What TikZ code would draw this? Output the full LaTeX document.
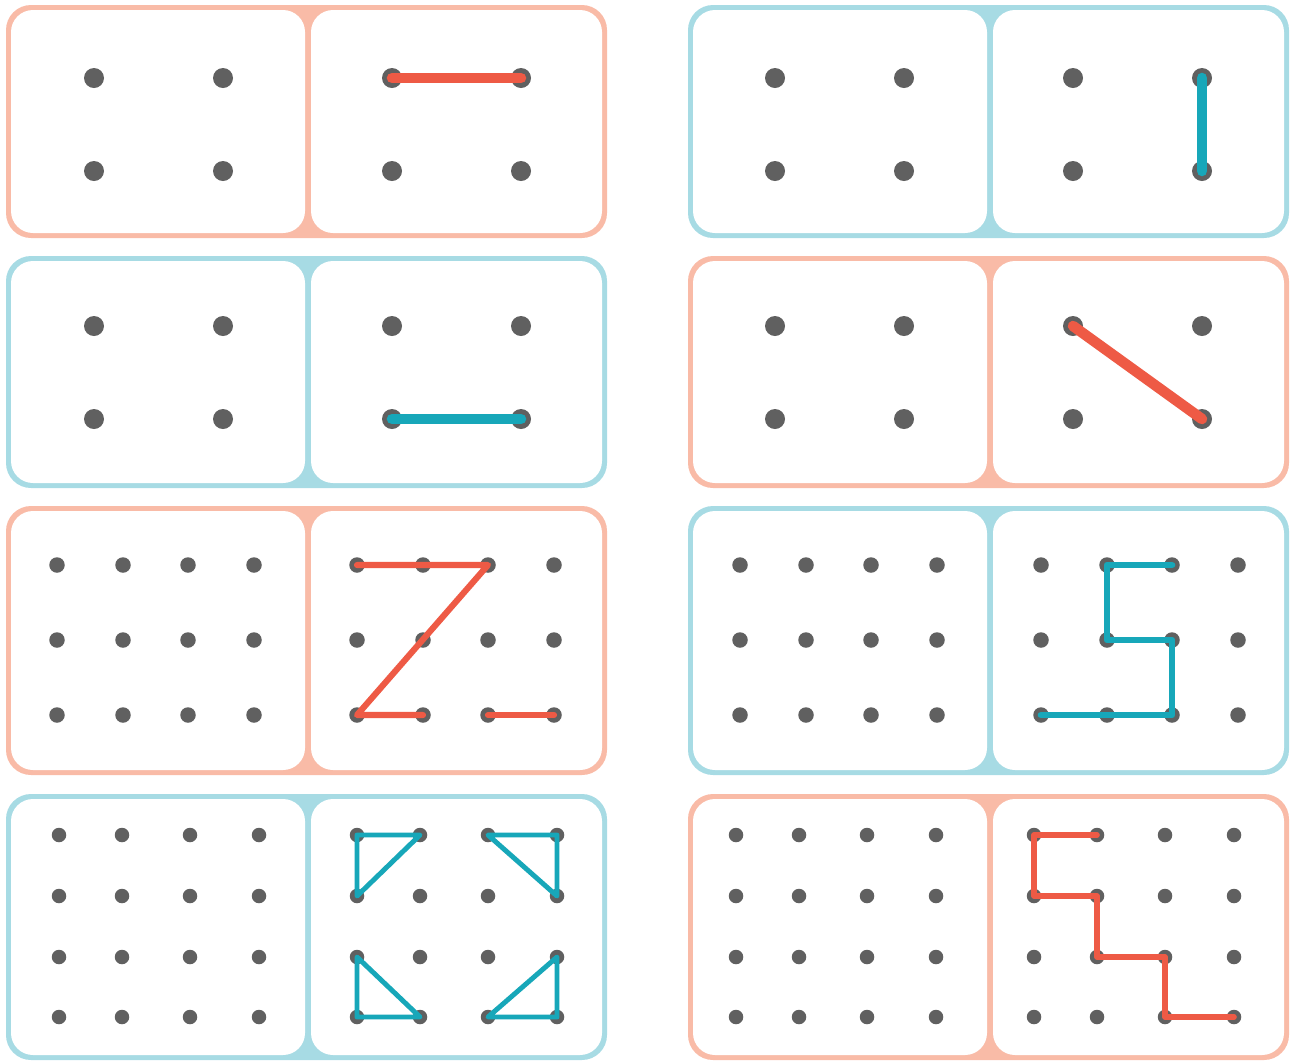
\documentclass[tikz,border=0pt]{standalone}
\usepackage{tikz}
\definecolor{peach}{HTML}{F9BBA7}
\definecolor{aqua}{HTML}{A7DBE4}
\definecolor{redcol}{HTML}{EE5A45}
\definecolor{bluecol}{HTML}{17A7B9}
\definecolor{pegcol}{HTML}{606060}

\begin{document}
\begin{tikzpicture}[x=0.2mm, y=-0.2mm,
    peg/.style={circle, fill=pegcol, inner sep=0pt, minimum size=4mm},
    rl/.style={draw=redcol, line width=#1, line cap=round, line join=round},
    rl/.default=6pt,
    bl/.style={draw=bluecol, line width=#1, line cap=round, line join=round},
    bl/.default=6pt]
  \useasboundingbox (0,0) rectangle (1298,1063);
  % boards
  \foreach \bx/\by/\bh/\col in {6/5/233/peach, 688/5/233/aqua,
      6/256/232/aqua, 688/256/232/peach, 6/506/269/peach, 688/506/269/aqua,
      6/794/266/aqua, 688/794/266/peach} {
    \fill[\col, rounded corners=5mm] (\bx,\by) rectangle ++(601,\bh);
    \fill[white, rounded corners=4.4mm] ({\bx+5},{\by+5}) rectangle ({\bx+299},{\by+\bh-5});
    \fill[white, rounded corners=4.4mm] ({\bx+305},{\by+5}) rectangle ({\bx+596},{\by+\bh-5});
  }
  % 2x2 pegs
  \foreach \r/\ya/\yb in {1/78/171, 2/326/419}
    \foreach \c/\xa in {a/94, b/392, c/775, d/1073}
      \foreach \i/\dx in {1/0, 2/129}
        \foreach \j/\y in {1/\ya, 2/\yb}
          \node[peg] (\r\c-\i-\j) at ({\xa+\dx},\y) {};
  % 4x3 pegs
  \foreach \c/\xa in {a/57, b/357, c/740, d/1041}
    \foreach \i/\dx in {1/0, 2/66, 3/131, 4/197}
      \foreach \j/\y in {1/565, 2/640, 3/715}
        \node[peg, minimum size=3.1mm] (3\c-\i-\j) at ({\xa+\dx},\y) {};
  % 4x4 pegs
  \foreach \c/\xa in {a/59, b/357, c/736, d/1034}
    \foreach \i/\dx in {1/0, 2/63, 3/131, 4/200}
      \foreach \j/\y in {1/835, 2/896, 3/957, 4/1017}
        \node[peg, minimum size=2.9mm] (4\c-\i-\j) at ({\xa+\dx},\y) {};
  % row 1
  \draw[rl] (1b-1-1.center) -- (1b-2-1.center);
  \draw[bl] (1d-2-1.center) -- (1d-2-2.center);
  % row 2
  \draw[bl] (2b-1-2.center) -- (2b-2-2.center);
  \draw[rl] (2d-1-1.center) -- (2d-2-2.center);
  % row 3: Z and S
  \draw[rl=3.5pt] (3b-1-1.center) -- (3b-2-1.center) -- (3b-3-1.center)
    -- (3b-1-3.center) -- (3b-2-3.center);
  \draw[rl=3.5pt] (3b-3-3.center) -- (3b-4-3.center);
  \draw[bl=3.8pt] (3d-3-1.center) -- (3d-2-1.center) -- (3d-2-2.center)
    -- (3d-3-2.center) -- (3d-3-3.center) -- (3d-2-3.center) -- (3d-1-3.center);
  % row 4: triangles and steps
  \draw[bl=2.8pt] (4b-1-1.center) -- (4b-2-1.center) -- (4b-1-2.center) -- cycle;
  \draw[bl=2.8pt] (4b-3-1.center) -- (4b-4-1.center) -- (4b-4-2.center) -- cycle;
  \draw[bl=2.8pt] (4b-1-3.center) -- (4b-1-4.center) -- (4b-2-4.center) -- cycle;
  \draw[bl=2.8pt] (4b-4-3.center) -- (4b-4-4.center) -- (4b-3-4.center) -- cycle;
  \draw[rl=3.2pt] (4d-2-1.center) -- (4d-1-1.center) -- (4d-1-2.center)
    -- (4d-2-2.center) -- (4d-2-3.center) -- (4d-3-3.center)
    -- (4d-3-4.center) -- (4d-4-4.center);
\end{tikzpicture}
\end{document}
